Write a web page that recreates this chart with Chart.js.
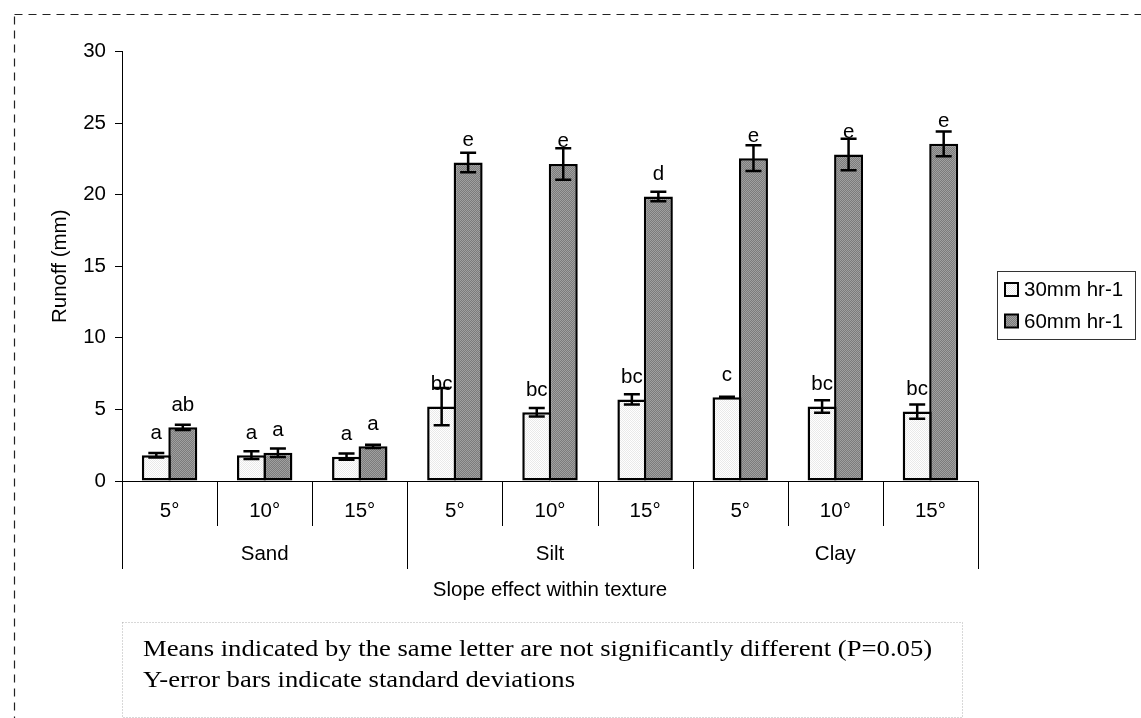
<!DOCTYPE html>
<html>
<head>
<meta charset="utf-8">
<script src="https://cdn.jsdelivr.net/npm/chart.js@4.4.1/dist/chart.umd.min.js"></script>
<style>
    body { margin: 0; background: #ffffff; }
    #wrap { position: relative; width: 1141px; height: 718px; }
</style>
</head>
<body>
<div id="wrap"><canvas id="runoff-chart"></canvas></div>
<script>
// categories
let slopes = ["5°", "10°", "15°", "5°", "10°", "15°", "5°", "10°", "15°"];
let textures = ["Sand", "Silt", "Clay"];

// runoff (mm) and standard deviations
let runoff30 = [1.8, 1.8, 1.7, 5.2, 4.8, 5.7, 5.85, 5.2, 4.85];
let sd30 = [0.15, 0.27, 0.22, 1.3, 0.3, 0.36, 0.04, 0.44, 0.5];
let runoff60 = [3.75, 1.97, 2.42, 22.25, 22.15, 19.87, 22.55, 22.8, 23.55];
let sd60 = [0.18, 0.3, 0.12, 0.68, 1.1, 0.33, 0.9, 1.1, 0.87];

// significance letters
let letters30 = ["a", "a", "a", "bc", "bc", "bc", "c", "bc", "bc"];
let letters60 = ["ab", "a", "a", "e", "e", "d", "e", "e", "e"];

let yTicks = [0, 5, 10, 15, 20, 25, 30];

let sansFont = { family: "'Liberation Sans', Arial, sans-serif", size: 20.5 };
let noteLines = [
    "Means indicated by the same letter are not significantly different (P=0.05)",
    "Y-error bars indicate standard deviations"
];

function makePattern(c1, c2) {
    let p = document.createElement("canvas");
    p.width = 2;
    p.height = 2;
    let pc = p.getContext("2d");
    pc.fillStyle = c1;
    pc.fillRect(0, 0, 2, 2);
    pc.fillStyle = c2;
    pc.fillRect(0, 0, 1, 1);
    pc.fillRect(1, 1, 1, 1);
    return pc.createPattern(p, "repeat");
}

let lightFill = makePattern("#ffffff", "#e9e9e9");
let darkFill = makePattern("#7b7b7b", "#a0a0a0");

// dashed frame, legend box and footnote
const decorPlugin = {
    id: "decor",
    beforeDraw(chart) {
        let ctx = chart.ctx;
        ctx.save();
        ctx.strokeStyle = "#222";
        ctx.lineWidth = 1.2;
        ctx.setLineDash([8, 6]);
        ctx.strokeRect(14.5, 14.5, 1200, 800);
        ctx.restore();
    },
    afterDraw(chart) {
        let ctx = chart.ctx;
        let x = chart.scales.x;
        let font = sansFont.size + "px " + sansFont.family;

        // category dividers under the axis
        let step = x.getPixelForValue(1) - x.getPixelForValue(0);
        ctx.save();
        ctx.strokeStyle = "#000";
        ctx.lineWidth = 1;
        for (let i = 0; i <= slopes.length; i++) {
            let px = Math.round(x.getPixelForValue(0) - step / 2 + i * step) + 0.5;
            let len = (i % 3 == 0) ? 88 : 45;
            ctx.beginPath();
            ctx.moveTo(px, x.top);
            ctx.lineTo(px, x.top + len);
            ctx.stroke();
        }
        ctx.fillStyle = "#000";
        ctx.font = font;
        ctx.textAlign = "center";
        ctx.textBaseline = "middle";
        for (let g = 0; g < textures.length; g++) {
            ctx.fillText(textures[g], x.getPixelForValue(g * 3 + 1), x.top + 73);
        }

        // legend
        ctx.strokeStyle = "#333";
        ctx.lineWidth = 1;
        ctx.strokeRect(997.5, 271.5, 138, 68);
        let fills = [lightFill, darkFill];
        let labels = chart.data.datasets.map(d => d.label);
        ctx.textAlign = "left";
        for (let k = 0; k < labels.length; k++) {
            let cy = 289.5 + k * 31.5;
            ctx.fillStyle = fills[k];
            ctx.fillRect(1005, cy - 6.5, 13, 13);
            ctx.strokeStyle = "#000";
            ctx.lineWidth = 2;
            ctx.strokeRect(1005, cy - 6.5, 13, 13);
            ctx.fillStyle = "#000";
            ctx.fillText(labels[k], 1024, cy + 1);
        }

        // footnote box
        ctx.strokeStyle = "#b0b0b0";
        ctx.lineWidth = 1;
        ctx.setLineDash([1, 2]);
        ctx.strokeRect(122.5, 622.5, 840, 95);
        ctx.setLineDash([]);
        ctx.fillStyle = "#000";
        ctx.font = "24px 'Liberation Serif', 'Times New Roman', serif";
        ctx.textBaseline = "alphabetic";
        for (let n = 0; n < noteLines.length; n++) {
            ctx.save();
            ctx.translate(143, 655.5 + n * 31.7);
            ctx.scale(1.11, 1);
            ctx.fillText(noteLines[n], 0, 0);
            ctx.restore();
        }
        ctx.restore();
    }
};

// error bars and letters over the bars
const errorPlugin = {
    id: "errors",
    afterDatasetsDraw(chart) {
        let ctx = chart.ctx;
        let y = chart.scales.y;
        let sds = [sd30, sd60];
        let marks = [letters30, letters60];
        ctx.save();
        ctx.strokeStyle = "#000";
        ctx.lineWidth = 2.5;
        for (let d = 0; d < chart.data.datasets.length; d++) {
            let meta = chart.getDatasetMeta(d);
            let values = chart.data.datasets[d].data;
            for (let i = 0; i < values.length; i++) {
                let bx = meta.data[i].x;
                let top = y.getPixelForValue(values[i] + sds[d][i]);
                let bottom = y.getPixelForValue(values[i] - sds[d][i]);
                ctx.beginPath();
                ctx.moveTo(bx, top);
                ctx.lineTo(bx, bottom);
                ctx.moveTo(bx - 8, top);
                ctx.lineTo(bx + 8, top);
                ctx.moveTo(bx - 8, bottom);
                ctx.lineTo(bx + 8, bottom);
                ctx.stroke();
            }
        }
        ctx.fillStyle = "#000";
        ctx.font = sansFont.size + "px " + sansFont.family;
        ctx.textAlign = "center";
        ctx.textBaseline = "alphabetic";
        for (let d = 0; d < chart.data.datasets.length; d++) {
            let meta = chart.getDatasetMeta(d);
            for (let i = 0; i < marks[d].length; i++) {
                ctx.fillText(marks[d][i], meta.data[i].x, meta.data[i].y - 16.5);
            }
        }
        ctx.restore();
    }
};

const canvas = document.getElementById("runoff-chart");
let runoffChart = new Chart(canvas.getContext("2d"), {
    type: "bar",
    data: {
        labels: slopes,
        datasets: [
            {
                label: "30mm hr-1",
                data: runoff30,
                backgroundColor: lightFill,
                borderColor: "#000",
                borderWidth: 2.5,
                borderSkipped: false,
                categoryPercentage: 0.557,
                barPercentage: 1.094
            },
            {
                label: "60mm hr-1",
                data: runoff60,
                backgroundColor: darkFill,
                borderColor: "#000",
                borderWidth: 2.5,
                borderSkipped: false,
                categoryPercentage: 0.557,
                barPercentage: 1.094
            }
        ]
    },
    options: {
        responsive: true,
        maintainAspectRatio: false,
        animation: false,
        layout: { padding: { left: 0, top: 51.5, right: 163, bottom: 107 } },
        plugins: {
            legend: { display: false },
            tooltip: { enabled: false }
        },
        scales: {
            x: {
                offset: true,
                grid: { display: false, drawTicks: false },
                border: { display: true, color: "#000", width: 1 },
                ticks: { font: sansFont, color: "#000", padding: 18 },
                title: {
                    display: true,
                    text: "Slope effect within texture",
                    font: sansFont,
                    color: "#000",
                    padding: { top: 0, bottom: 8 }
                },
                afterFit(scale) { scale.height = 130; }
            },
            y: {
                min: 0,
                max: 30,
                afterBuildTicks(scale) { scale.ticks = yTicks.map(v => ({ value: v })); },
                grid: { drawOnChartArea: false, drawTicks: true, tickLength: 7, color: "#000" },
                border: { color: "#000", width: 1 },
                ticks: { font: sansFont, color: "#000", padding: 9 },
                title: {
                    display: true,
                    text: "Runoff (mm)",
                    font: sansFont,
                    color: "#000",
                    padding: { top: 48, bottom: 0 }
                },
                afterFit(scale) { scale.width = 122; }
            }
        }
    },
    plugins: [decorPlugin, errorPlugin]
});
</script>
</body>
</html>
